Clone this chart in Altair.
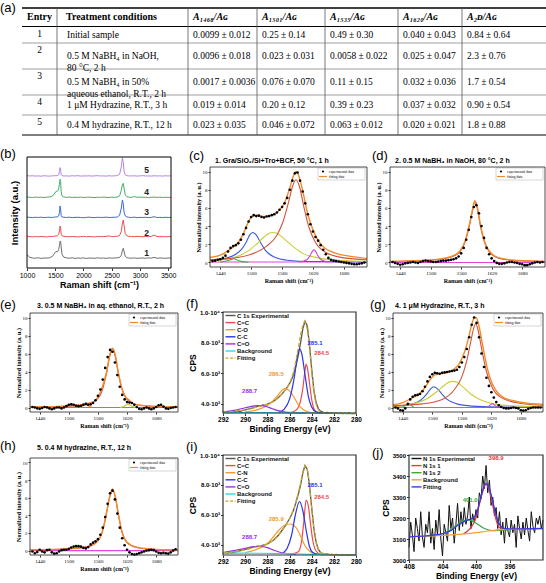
import altair as alt
import pandas as pd

SANS = "Liberation Sans"
SERIF = "Liberation Serif"
W_TOTAL, H_TOTAL = 546, 583

# ---------------- (a) table data ----------------
HEADERS = ["Entry", "Treatment conditions", "A₁₄₆₈/Aɢ", "A₁₅₀₁/Aɢ", "A₁₅₃₅/Aɢ", "A₁₆₂₀/Aɢ", "A₂ᴅ/Aɢ"]
ENTRIES = ["1", "2", "3", "4", "5"]
CONDITIONS = ["Initial sample",
              "0.5 M NaBH₄ in NaOH,\n80 °C, 2 h",
              "0.5 M NaBH₄ in 50%\naqueous ethanol, R.T., 2 h",
              "1 μM Hydrazine, R.T., 3 h",
              "0.4 M hydrazine, R.T., 12 h"]
A1468 = ["0.0099 ± 0.012", "0.0096 ± 0.018", "0.0017 ± 0.0036", "0.019 ± 0.014", "0.023 ± 0.035"]
A1501 = ["0.25 ± 0.14", "0.023 ± 0.031", "0.076  ± 0.070", "0.20  ± 0.12", "0.046 ± 0.072"]
A1535 = ["0.49 ± 0.30", "0.0058 ± 0.022", "0.11 ± 0.15", "0.39 ± 0.23", "0.063 ± 0.012"]
A1620 = ["0.040 ± 0.043", "0.025 ± 0.047", "0.032 ± 0.036", "0.037 ± 0.032", "0.020 ± 0.021"]
A2D = ["0.84 ± 0.64", "2.3 ± 0.76", "1.7 ± 0.54", "0.90 ± 0.54", "1.8 ± 0.88"]

# ---------------- (b) Raman spectra ----------------
BX = [1000, 1050, 1100, 1150, 1200, 1250, 1300, 1350, 1400, 1450,
      1480, 1510, 1540, 1560, 1575, 1585, 1595, 1605, 1620,
      1650, 1700, 1750, 1800, 1850, 1900, 1950, 2000, 2050, 2100,
      2150, 2200, 2250, 2300, 2350, 2400, 2450, 2500, 2550, 2600,
      2640, 2670, 2690, 2705, 2720, 2740, 2770,
      2800, 2850, 2900, 2950, 3000, 3050, 3100, 3150, 3200, 3250,
      3300, 3350, 3400, 3450, 3500, 3550]
SPEC1 = [12.0, 9.6, 9.0, 8.8, 9.2, 8.6, 9.0, 8.9, 9.3, 10.4,
         12.6, 14.8, 14.6, 16.5, 20.5, 23.8, 24.3, 19.0, 12.5,
         9.8, 9.1, 8.8, 9.2, 8.7, 9.0, 8.8, 9.1, 8.6, 9.0,
         8.9, 8.7, 9.2, 8.8, 9.0, 8.7, 9.1, 8.9, 9.0, 9.2,
         9.6, 11.5, 16.0, 17.7, 14.5, 10.5, 9.3,
         9.0, 8.8, 9.1, 8.7, 8.9, 9.0, 8.8, 9.1, 8.9, 9.6,
         8.8, 9.0, 8.9, 8.7, 9.0, 8.9]
SPEC2 = [28.6, 28.3, 28.0, 28.4, 28.1, 28.5, 28.2, 28.0, 28.4, 28.3,
         28.6, 28.9, 29.0, 30.0, 33.5, 37.8, 36.0, 30.5, 29.0,
         28.5, 28.3, 28.1, 28.4, 28.2, 28.0, 28.3, 28.5, 28.1, 28.3,
         28.2, 28.0, 28.4, 28.2, 28.3, 28.5, 28.9, 28.3, 28.4, 28.6,
         29.3, 33.0, 40.5, 43.2, 38.0, 31.0, 29.0,
         28.6, 28.4, 28.2, 28.5, 28.3, 28.2, 28.4, 28.3, 28.5, 29.6,
         28.4, 28.2, 28.3, 28.1, 28.3, 28.2]
SPEC3 = [45.9, 45.6, 45.4, 45.7, 45.5, 45.8, 45.4, 45.6, 45.7, 45.5,
         45.8, 46.0, 46.1, 46.8, 50.0, 55.9, 53.0, 47.5, 46.0,
         45.7, 45.5, 45.8, 45.4, 45.6, 45.7, 45.5, 45.3, 45.6, 45.8,
         45.5, 45.4, 45.7, 45.5, 45.6, 45.8, 45.5, 45.6, 45.7, 46.0,
         47.5, 54.0, 61.3, 57.5, 50.0, 47.0, 46.0,
         45.7, 45.5, 45.8, 45.4, 45.6, 45.5, 45.7, 45.4, 45.6, 46.2,
         45.5, 45.6, 45.4, 45.7, 45.5, 45.6]
SPEC4 = [64.0, 63.7, 63.5, 63.9, 63.6, 63.8, 63.5, 63.8, 64.0, 64.8,
         66.5, 68.8, 69.4, 71.0, 75.5, 79.9, 78.0, 69.0, 65.0,
         64.0, 63.7, 63.9, 63.5, 63.8, 63.6, 63.9, 63.5, 63.7, 63.8,
         63.6, 63.4, 63.8, 63.6, 63.9, 63.7, 63.5, 63.8, 63.6, 64.0,
         65.0, 70.0, 75.5, 76.3, 71.5, 66.0, 64.2,
         63.8, 63.6, 64.4, 63.7, 63.9, 63.6, 63.8, 63.5, 63.7, 63.9,
         63.6, 63.8, 63.5, 63.7, 63.6, 63.7]
SPEC5 = [83.2, 82.9, 83.1, 82.8, 83.0, 82.7, 83.1, 82.9, 82.8, 83.0,
         83.1, 83.2, 83.3, 84.0, 87.0, 90.4, 88.5, 84.0, 83.2,
         82.9, 83.0, 82.8, 83.1, 82.9, 83.2, 82.8, 83.0, 82.9, 83.1,
         82.8, 83.0, 83.2, 82.9, 83.0, 82.8, 83.1, 82.9, 83.0, 83.3,
         84.5, 91.0, 99.4, 95.0, 87.0, 84.0, 83.2,
         83.0, 82.9, 83.1, 82.8, 83.0, 83.2, 82.9, 83.0, 82.8, 83.1,
         82.9, 83.0, 82.8, 83.1, 82.9, 83.0]
SPEC_NAMES = ["1", "2", "3", "4", "5"]
SPEC_COLORS = ["#6e6e6e", "#e8504f", "#3a6ad6", "#3fae6c", "#b584e8"]
SPEC_LABEL_X = [3120, 3120, 3120, 3120, 3120]
SPEC_LABEL_Y = [13.2, 31.8, 50.7, 68.7, 88.3]

# ---------------- Raman fit panels (c, d, e, g, h) ----------------
RX = [1425, 1430, 1435, 1440, 1445, 1450, 1455, 1460, 1465, 1470,
      1475, 1480, 1485, 1490, 1495, 1500, 1505, 1510, 1515, 1520,
      1525, 1530, 1535, 1540, 1545, 1550, 1555, 1560, 1565, 1570,
      1575, 1580, 1585, 1590, 1595, 1600, 1605, 1610, 1615, 1620,
      1625, 1630, 1635, 1640, 1645, 1650, 1655, 1660, 1665, 1670,
      1675, 1680, 1685, 1690, 1695, 1700, 1705, 1710, 1715, 1720]
RAMAN_TICKS = [1440, 1500, 1560, 1620, 1680]

C_EXP = [0.15, 0.2, 0.3, 0.35, 0.5, 0.75, 1.2, 1.6, 1.8, 1.9,
         2.1, 2.5, 3.1, 3.8, 4.5, 5.0, 5.2, 5.1, 5.15, 5.0,
         4.95, 5.05, 5.1, 5.2, 5.3, 5.5, 5.8, 6.1, 6.5, 7.1,
         8.0, 9.0, 9.8, 9.9, 9.0, 7.8, 6.5, 5.3, 4.2, 3.4,
         2.8, 2.4, 1.9, 1.4, 0.9, 0.5, 0.3, 0.2, 0.15, 0.1,
         0.05, 0.0, -0.05, -0.1, -0.15, -0.2, -0.2, -0.15, -0.1, 0.0]
C_FIT_X = [1420, 1440, 1460, 1475, 1485, 1495, 1503, 1512, 1525, 1540, 1552, 1565, 1575, 1582,
           1587, 1592, 1600, 1610, 1620, 1630, 1645, 1665, 1690, 1725]
C_FIT_Y = [0.55, 0.8, 1.5, 2.2, 3.2, 4.5, 5.1, 5.2, 5.05, 5.2, 5.6, 6.6, 8.2, 9.5,
           10.0, 9.6, 7.9, 5.3, 3.6, 2.4, 1.5, 1.0, 0.7, 0.45]
C_GREEN_X = [1440, 1452, 1460, 1466, 1472, 1480, 1495]
C_GREEN_Y = [0.03, 0.15, 0.3, 0.4, 0.3, 0.12, 0.03]
C_BLUE_X = [1420, 1450, 1470, 1482, 1490, 1497, 1503, 1510, 1518, 1528, 1545, 1570, 1620, 1725]
C_BLUE_Y = [0.2, 0.45, 0.9, 1.5, 2.2, 3.0, 3.3, 3.0, 2.2, 1.3, 0.6, 0.25, 0.1, 0.05]
C_YEL_X = [1420, 1450, 1475, 1495, 1510, 1525, 1535, 1542, 1550, 1562, 1578, 1600, 1630, 1680, 1725]
C_YEL_Y = [0.15, 0.35, 0.7, 1.3, 2.0, 2.8, 3.2, 3.3, 3.2, 2.7, 1.9, 1.0, 0.5, 0.2, 0.12]
C_RED_X = [1420, 1460, 1500, 1530, 1550, 1562, 1572, 1580, 1587, 1594, 1602, 1612, 1625, 1645, 1680, 1725]
C_RED_Y = [0.3, 0.45, 0.9, 1.8, 3.0, 4.5, 6.5, 8.3, 9.1, 8.3, 6.2, 3.9, 2.2, 1.1, 0.5, 0.3]
C_MAG_X = [1595, 1608, 1614, 1618, 1622, 1626, 1630, 1636, 1650]
C_MAG_Y = [0.05, 0.3, 0.7, 1.15, 1.4, 1.15, 0.7, 0.3, 0.05]
BASE_X = [1420, 1725]
C_BASE_Y = [0.05, 0.05]

D_EXP = [0.05, -0.05, -0.15, -0.25, -0.2, -0.1, -0.05, 0.0, 0.05, 0.0,
         -0.05, 0.05, 0.15, 0.2, 0.15, 0.1, 0.05, 0.05, 0.1, 0.15,
         0.2, 0.2, 0.25, 0.3, 0.35, 0.45, 0.65, 1.0, 1.6, 2.5,
         3.6, 5.0, 6.1, 6.3, 5.4, 4.0, 2.7, 1.6, 0.9, 0.45,
         0.15, -0.05, -0.15, -0.15, -0.1, 0.0, 0.05, 0.05, 0.0, -0.05,
         -0.15, -0.2, -0.3, -0.3, -0.2, -0.1, 0.0, 0.05, 0.0, 0.05]
D_RED_X = [1420, 1500, 1540, 1558, 1568, 1576, 1582, 1587, 1592, 1598, 1606, 1616, 1635, 1670, 1725]
D_RED_Y = [0.1, 0.25, 0.6, 1.2, 2.3, 4.0, 5.6, 6.7, 5.9, 4.0, 2.2, 1.1, 0.45, 0.2, 0.1]
D_FIT_Y = [0.12, 0.28, 0.65, 1.3, 2.4, 4.1, 5.7, 6.8, 6.0, 4.1, 2.3, 1.2, 0.5, 0.22, 0.12]
D_BASE_Y = [0.0, 0.0]

E_EXP = [0.05, 0.0, -0.1, -0.15, -0.05, 0.05, 0.0, -0.1, -0.2, -0.1,
         0.0, 0.0, -0.1, 0.0, 0.15, 0.3, 0.35, 0.3, 0.2, 0.15,
         0.2, 0.3, 0.4, 0.3, 0.35, 0.5, 0.8, 1.3, 2.0, 3.1,
         4.4, 5.6, 6.4, 6.2, 5.0, 3.6, 2.3, 1.4, 0.9, 0.6,
         0.55, 0.5, 0.3, 0.05, -0.15, -0.2, -0.1, 0.0, -0.1, -0.2,
         -0.1, 0.05, 0.25, 0.3, 0.1, -0.1, -0.15, -0.05, 0.0, 0.05]
E_RED_X = [1420, 1500, 1540, 1560, 1570, 1578, 1584, 1590, 1596, 1602, 1610, 1620, 1640, 1680, 1725]
E_RED_Y = [0.05, 0.15, 0.4, 1.0, 2.1, 3.9, 5.6, 6.5, 5.6, 3.8, 2.0, 0.9, 0.3, 0.1, 0.05]
E_YEL_X = [1605, 1614, 1619, 1622, 1625, 1630, 1640]
E_YEL_Y = [0.0, 0.15, 0.3, 0.35, 0.3, 0.15, 0.0]
E_OR1_X = [1490, 1500, 1505, 1510, 1520]
E_OR1_Y = [0.02, 0.2, 0.3, 0.2, 0.02]
E_OR2_X = [1522, 1530, 1535, 1540, 1548]
E_OR2_Y = [0.02, 0.2, 0.3, 0.2, 0.02]
E_FIT_X = [1420, 1490, 1500, 1505, 1512, 1522, 1530, 1536, 1545, 1558, 1568, 1578, 1584, 1590,
           1596, 1602, 1610, 1618, 1623, 1630, 1645, 1680, 1725]
E_FIT_Y = [0.05, 0.12, 0.3, 0.4, 0.3, 0.25, 0.4, 0.45, 0.5, 1.0, 2.1, 4.0, 5.8, 6.6,
           5.8, 3.9, 2.0, 1.1, 0.9, 0.5, 0.25, 0.12, 0.06]
E_BASE_Y = [0.0, 0.0]

G_EXP = [0.0, -0.1, -0.3, -0.35, -0.1, 0.4, 0.9, 1.2, 1.35, 1.4,
         1.5, 1.8, 2.3, 2.9, 3.4, 3.7, 3.85, 3.8, 3.75, 3.85,
         3.9, 3.95, 4.0, 4.05, 4.1, 4.2, 4.5, 5.0, 5.6, 6.5,
         7.8, 9.2, 10.0, 9.4, 7.8, 6.0, 4.5, 3.3, 2.4, 1.7,
         1.1, 0.6, 0.25, 0.05, -0.05, -0.1, -0.1, -0.05, 0.0, -0.05,
         -0.1, -0.3, -0.35, -0.3, -0.15, -0.05, 0.0, 0.0, 0.0, 0.0]
G_GREEN_X = [1440, 1448, 1452, 1456, 1462]
G_GREEN_Y = [0.05, 0.3, 0.45, 0.3, 0.05]
G_BLUE_X = [1420, 1450, 1470, 1482, 1490, 1497, 1503, 1510, 1518, 1530, 1550, 1580, 1630, 1725]
G_BLUE_Y = [0.1, 0.3, 0.6, 1.1, 1.6, 2.1, 2.3, 2.1, 1.6, 0.9, 0.4, 0.15, 0.05, 0.02]
G_YEL_X = [1420, 1460, 1490, 1510, 1525, 1535, 1542, 1550, 1562, 1578, 1600, 1630, 1680, 1725]
G_YEL_Y = [0.1, 0.4, 1.0, 1.8, 2.5, 2.85, 2.9, 2.8, 2.3, 1.5, 0.8, 0.35, 0.15, 0.08]
G_RED_X = [1420, 1480, 1520, 1545, 1560, 1570, 1578, 1584, 1588, 1593, 1600, 1610, 1622, 1640, 1680, 1725]
G_RED_Y = [0.2, 0.4, 0.9, 2.0, 3.4, 5.2, 7.3, 8.8, 9.3, 8.6, 6.6, 4.0, 2.2, 1.1, 0.45, 0.25]
G_MAG_X = [1608, 1615, 1619, 1622, 1625, 1629, 1636]
G_MAG_Y = [0.0, 0.15, 0.35, 0.42, 0.35, 0.15, 0.0]
G_FIT_X = [1420, 1440, 1455, 1470, 1482, 1492, 1500, 1510, 1522, 1535, 1545, 1555, 1565, 1573,
           1580, 1585, 1589, 1595, 1602, 1612, 1622, 1632, 1645, 1665, 1690, 1725]
G_FIT_Y = [0.3, 0.55, 0.95, 1.4, 2.0, 2.8, 3.4, 3.7, 3.8, 4.0, 4.3, 4.9, 6.1, 7.6,
           9.2, 9.95, 10.0, 9.0, 7.0, 4.3, 2.6, 1.7, 1.1, 0.75, 0.5, 0.35]
G_BASE_Y = [0.0, 0.0]

H_EXP = [-0.1, -0.3, -0.15, 0.1, -0.1, -0.2, 0.05, 0.1, -0.2, -0.35,
         -0.3, -0.1, 0.05, 0.1, 0.1, 0.2, 0.35, 0.45, 0.5, 0.5,
         0.45, 0.3, 0.25, 0.4, 0.7, 0.9, 1.05, 1.3, 1.8, 2.6,
         3.8, 5.3, 6.5, 6.8, 5.8, 4.2, 2.6, 1.4, 0.6, 0.1,
         -0.2, -0.4, -0.45, -0.4, -0.3, -0.2, -0.1, 0.0, 0.05, 0.1,
         0.05, -0.1, -0.25, -0.3, -0.25, -0.3, -0.35, -0.2, 0.0, 0.15]
H_RED_X = [1420, 1500, 1540, 1560, 1570, 1578, 1584, 1590, 1596, 1602, 1610, 1620, 1640, 1680, 1725]
H_RED_Y = [0.05, 0.2, 0.45, 1.1, 2.3, 4.3, 6.0, 6.9, 6.0, 4.1, 2.0, 0.9, 0.35, 0.12, 0.06]
H_FIT_Y = [0.07, 0.22, 0.48, 1.15, 2.35, 4.4, 6.1, 7.0, 6.1, 4.2, 2.1, 0.95, 0.38, 0.14, 0.07]
H_BASE_Y = [0.0, 0.0]

# ---------------- XPS C 1s panels (f, i) ----------------
FX = [292.0, 291.8, 291.6, 291.4, 291.2, 291.0, 290.8, 290.6, 290.4, 290.2,
      290.0, 289.8, 289.6, 289.4, 289.2, 289.0, 288.8, 288.6, 288.4, 288.2,
      288.0, 287.8, 287.6, 287.4, 287.2, 287.0, 286.8, 286.6, 286.4, 286.2,
      286.0, 285.8, 285.6, 285.4, 285.2, 285.0, 284.8, 284.6, 284.4, 284.2,
      284.0, 283.8, 283.6, 283.4, 283.2, 283.0, 282.8, 282.6, 282.4, 282.2,
      282.0, 281.8, 281.6, 281.4, 281.2, 281.0, 280.8, 280.6, 280.4, 280.2,
      280.0]
F_EXP = [3420, 3460, 3440, 3480, 3450, 3490, 3510, 3540, 3520, 3580,
         3610, 3650, 3700, 3730, 3790, 3810, 3870, 3880, 3930, 3910,
         3990, 4050, 4110, 4200, 4310, 4420, 4560, 4720, 4900, 5100,
         5320, 5620, 6020, 6550, 7200, 8000, 8900, 9400, 9100, 7900,
         6300, 4900, 4100, 3700, 3530, 3470, 3420, 3450, 3400, 3430,
         3390, 3420, 3380, 3410, 3370, 3400, 3380, 3420, 3370, 3390,
         3380]
F_CC2_X = [286.0, 285.4, 285.0, 284.8, 284.6, 284.5, 284.4, 284.2, 284.0, 283.8, 283.5, 283.0, 282.5]
F_CC2_Y = [3415, 3600, 4200, 5000, 6200, 6600, 6400, 5400, 4300, 3700, 3450, 3390, 3380]
F_CO_X = [290.0, 289.0, 288.0, 287.5, 287.0, 286.6, 286.4, 286.0, 285.6, 285.2, 284.8, 284.4, 284.0, 283.0]
F_CO_Y = [3480, 3600, 3900, 4200, 4600, 4950, 5000, 4850, 4450, 3950, 3650, 3500, 3430, 3390]
F_CC_X = [287.0, 286.5, 286.0, 285.6, 285.3, 285.1, 284.9, 284.6, 284.3, 284.0, 283.6, 283.0]
F_CC_Y = [3450, 3650, 4300, 5600, 7000, 7600, 7300, 5900, 4500, 3800, 3480, 3390]
F_CDO_X = [292.0, 291.0, 290.0, 289.2, 288.7, 288.2, 287.6, 287.0, 286.4, 285.5, 284.5]
F_CDO_Y = [3480, 3580, 3750, 3880, 3900, 3850, 3700, 3560, 3470, 3420, 3400]
F_BG_X = [292.0, 288.0, 285.0, 283.5, 282.0, 280.0]
F_BG_Y = [3440, 3430, 3415, 3400, 3380, 3370]
F_FIT_X = [292.0, 291.0, 290.0, 289.0, 288.0, 287.5, 287.0, 286.5, 286.0, 285.6, 285.3, 285.0,
           284.8, 284.65, 284.4, 284.2, 284.0, 283.8, 283.6, 283.3, 283.0, 282.0, 280.0]
F_FIT_Y = [3460, 3520, 3620, 3790, 3980, 4150, 4400, 4800, 5350, 6200, 7300, 8500,
           9100, 9350, 8900, 7700, 6100, 4800, 4000, 3550, 3430, 3390, 3370]

I_EXP = [3450, 3490, 3430, 3510, 3470, 3530, 3540, 3590, 3620, 3650,
         3700, 3750, 3780, 3840, 3860, 3900, 3930, 3940, 3990, 4000,
         4080, 4150, 4250, 4350, 4500, 4650, 4850, 5050, 5250, 5500,
         5750, 6050, 6400, 6900, 7400, 8000, 8800, 9300, 9050, 8000,
         6500, 5100, 4200, 3700, 3500, 3420, 3380, 3400, 3360, 3380,
         3340, 3370, 3350, 3330, 3360, 3340, 3350, 3330, 3360, 3340,
         3350]
I_CC2_X = [285.8, 285.2, 284.9, 284.7, 284.5, 284.3, 284.1, 283.9, 283.6, 283.2, 282.5]
I_CC2_Y = [3400, 3550, 4300, 5600, 7000, 6600, 5400, 4300, 3600, 3380, 3350]
I_CN_X = [290.0, 289.0, 288.0, 287.5, 287.0, 286.5, 285.9, 285.4, 285.0, 284.6, 284.2, 283.8, 283.0]
I_CN_Y = [3500, 3700, 4100, 4500, 4950, 5300, 5400, 5150, 4600, 3950, 3600, 3430, 3360]
I_CC_X = [286.6, 286.2, 285.8, 285.5, 285.1, 284.8, 284.5, 284.2, 283.9, 283.4]
I_CC_Y = [3450, 3800, 4700, 5900, 6900, 6300, 5000, 3900, 3500, 3370]
I_CDO_X = [292.0, 291.0, 290.0, 289.2, 288.7, 288.0, 287.4, 286.8, 286.2, 285.4]
I_CDO_Y = [3500, 3620, 3780, 3890, 3900, 3820, 3650, 3500, 3420, 3380]
I_BG_X = [292.0, 289.0, 286.0, 284.0, 282.0, 280.0]
I_BG_Y = [3460, 3450, 3420, 3380, 3350, 3340]
I_FIT_X = [292.0, 291.0, 290.0, 289.0, 288.0, 287.5, 287.0, 286.5, 286.0, 285.5, 285.2, 285.0,
           284.8, 284.6, 284.4, 284.2, 284.0, 283.8, 283.6, 283.3, 283.0, 282.0, 280.0]
I_FIT_Y = [3470, 3550, 3680, 3880, 4070, 4300, 4650, 5150, 5750, 6650, 7500, 8100,
           8800, 9250, 9050, 8000, 6500, 5100, 4200, 3600, 3420, 3360, 3340]

# ---------------- XPS N 1s panel (j) ----------------
JX = [408.0, 407.8, 407.6, 407.4, 407.2, 407.0, 406.8, 406.6, 406.4, 406.2,
      406.0, 405.8, 405.6, 405.4, 405.2, 405.0, 404.8, 404.6, 404.4, 404.2,
      404.0, 403.8, 403.6, 403.4, 403.2, 403.0, 402.8, 402.6, 402.4, 402.2,
      402.0, 401.8, 401.6, 401.4, 401.2, 401.0, 400.8, 400.6, 400.4, 400.2,
      400.0, 399.8, 399.6, 399.4, 399.2, 399.0, 398.8, 398.6, 398.4, 398.2,
      398.0, 397.8, 397.6, 397.4, 397.2, 397.0, 396.8, 396.6, 396.4, 396.2,
      396.0, 395.8, 395.6, 395.4, 395.2, 395.0, 394.8, 394.6, 394.4, 394.2,
      394.0, 393.8, 393.6, 393.4, 393.2, 393.0, 392.8, 392.6, 392.4, 392.2,
      392.0]
J_EXP = [3060, 3180, 3120, 3040, 3200, 3150, 3090, 3230, 3110, 3060,
         3170, 3130, 3230, 3080, 3150, 3050, 3190, 3120, 3240, 3100,
         3020, 3170, 3130, 3090, 3260, 3150, 3200, 3080, 3170, 3270,
         3140, 3230, 3160, 3250, 3170, 3210, 3300, 3150, 3220, 3180,
         3240, 3200, 3320, 3290, 3400, 3340, 3450, 3320, 3380, 3260,
         3300, 3210, 3250, 3150, 3230, 3120, 3180, 3080, 3200, 3140,
         3110, 3190, 3130, 3170, 3060, 3210, 3150, 3100, 3180, 3120,
         3200, 3140, 3090, 3230, 3160, 3130, 3200, 3170, 3210, 3150,
         3190]
J_N1_X = [401.5, 400.5, 400.0, 399.5, 399.0, 398.8, 398.4, 398.0, 397.6, 397.2, 396.6, 396.0]
J_N1_Y = [3125, 3160, 3200, 3280, 3350, 3360, 3330, 3260, 3190, 3155, 3145, 3145]
J_N2_X = [406.0, 404.0, 403.0, 402.0, 401.2, 400.8, 400.2, 399.6, 399.0, 398.0, 397.0, 396.0]
J_N2_Y = [3115, 3125, 3145, 3175, 3190, 3190, 3180, 3165, 3150, 3140, 3142, 3145]
J_BG_X = [408.0, 405.0, 402.0, 400.0, 398.5, 397.0, 394.0, 392.0]
J_BG_Y = [3110, 3115, 3122, 3130, 3138, 3145, 3148, 3150]
J_FIT_X = [408.0, 405.0, 403.0, 402.0, 401.0, 400.4, 400.0, 399.6, 399.2, 398.9, 398.5, 398.0,
           397.6, 397.2, 396.6, 396.0, 392.0]
J_FIT_Y = [3110, 3118, 3140, 3170, 3190, 3200, 3215, 3270, 3330, 3365, 3350, 3280,
           3210, 3170, 3150, 3148, 3150]

# ---------------- layout (page pixels): plot rectangles x0, x1, y0, y1 ----------------
BOX = {
    "b": (27, 171, 157, 268), "c": (210, 367, 167, 267), "d": (390, 545, 167, 267),
    "e": (30, 178, 313, 412), "f": (223, 356, 312, 413), "g": (393, 543, 313, 412),
    "h": (30, 178, 458, 555), "i": (223, 356, 455, 555), "j": (409, 543, 455, 560),
}
TABLE_BOX = (22, 546, 8, 136)
COL_EDGES = [0, 35, 166, 235, 303, 376, 440, 524]
ROW_EDGES = [0, 18.5, 35, 61, 87, 107, 127]

ORANGE = "#f28a2a"
RC = {"red": "#cf553c", "blue": "#3c5ad8", "yellow": "#cccc33", "magenta": "#d33fd3",
      "green": "#44b044", "base": "#e048e0", "orange": "#e89030"}


def df1():
    return pd.DataFrame({"a": [0]})


def note(text, x, y, size, weight="normal", color="black", font=SANS, align="left",
         baseline="alphabetic"):
    return alt.Chart(pd.DataFrame({"t": [text]})).mark_text(
        align=align, baseline=baseline, fontSize=size, fontWeight=weight, color=color, font=font
    ).encode(x=alt.value(x), y=alt.value(y), text="t:N")


def frame(key, color="#222", sw=0.8):
    x0, x1, y0, y1 = BOX[key]
    return alt.Chart(df1()).mark_rect(fillOpacity=0, stroke=color, strokeWidth=sw).encode(
        x=alt.value(x0), x2=alt.value(x1), y=alt.value(y0), y2=alt.value(y1))


def hrule(x0, x1, y, color, sw=1.2, dash=None):
    kw = dict(color=color, strokeWidth=sw)
    if dash:
        kw["strokeDash"] = dash
    return alt.Chart(df1()).mark_rule(**kw).encode(x=alt.value(x0), x2=alt.value(x1), y=alt.value(y))


def encs(key, xdom, ydom, xrev=False, xaxis=None, yaxis=None):
    x0, x1, y0, y1 = BOX[key]
    xs = alt.Scale(domain=xdom, range=[x1, x0] if xrev else [x0, x1], nice=False, zero=False)
    ys = alt.Scale(domain=ydom, range=[y1, y0], nice=False, zero=False)
    if xaxis is not None:
        xaxis = alt.Axis(orient="bottom", offset=y1 - H_TOTAL, **xaxis)
    if yaxis is not None:
        yaxis = alt.Axis(orient="left", offset=-x0, **yaxis)
    X = alt.X("x:Q", scale=xs, axis=xaxis)
    Y = alt.Y("y:Q", scale=ys, axis=yaxis)
    return X, Y


def common_axis(font, lsize, tsize, lweight="normal"):
    return dict(labelFont=font, labelFontSize=lsize, labelFontWeight=lweight, titleFont=font,
                titleFontSize=tsize, titleFontWeight="bold", grid=False, domain=False,
                labelFlush=False, labelOverlap=False, tickColor="#333", labelColor="black",
                titleColor="black", format="d")


layers = []

# ---------------- table ----------------
tx0, tx1, ty0, ty1 = TABLE_BOX
TXS = alt.Scale(domain=[0, tx1 - tx0], range=[tx0, tx1], nice=False, zero=False)
TYS = alt.Scale(domain=[0, ty1 - ty0], range=[ty0, ty1], nice=False, zero=False)
hl = pd.DataFrame({"y": ROW_EDGES, "x0": [0] * 7, "x1": [tx1 - tx0] * 7,
                   "sw": [1.5, 1.0, 0.7, 0.7, 0.7, 0.7, 1.2],
                   "c": ["#000", "#000", "#777", "#777", "#777", "#777", "#000"]})
vl = pd.DataFrame({"x": COL_EDGES[1:-1], "y0": [0] * 6, "y1": [ROW_EDGES[-1]] * 6})
layers.append(alt.Chart(hl).mark_rule().encode(
    x=alt.X("x0:Q", scale=TXS, axis=None), x2="x1:Q", y=alt.Y("y:Q", scale=TYS, axis=None),
    strokeWidth=alt.StrokeWidth("sw:Q", scale=None), color=alt.Color("c:N", scale=None)))
layers.append(alt.Chart(vl).mark_rule(color="#555", strokeWidth=0.8).encode(
    x=alt.X("x:Q", scale=TXS, axis=None), y=alt.Y("y0:Q", scale=TYS, axis=None), y2="y1:Q"))
hy = ROW_EDGES[1] / 2
cells = []
for r in range(5):
    yc = (ROW_EDGES[r + 1] + ROW_EDGES[r + 2]) / 2
    cells.append({"x": COL_EDGES[1] + 10, "y": yc, "t": CONDITIONS[r]})
    for k, col in enumerate([A1468, A1501, A1535, A1620, A2D]):
        cells.append({"x": COL_EDGES[2 + k] + 5, "y": yc, "t": col[r]})


def table_text(df, align, weight="normal", style="normal", size=9.5):
    return alt.Chart(df).mark_text(align=align, baseline="middle", font=SERIF, fontSize=size,
                                   fontWeight=weight, fontStyle=style, lineBreak="\n",
                                   lineHeight=12, color="black").encode(
        x=alt.X("x:Q", scale=TXS, axis=None), y=alt.Y("y:Q", scale=TYS, axis=None), text="t:N")


layers += [
    table_text(pd.DataFrame({"x": [COL_EDGES[1] / 2], "y": [hy], "t": [HEADERS[0]]}), "center", "bold", size=10),
    table_text(pd.DataFrame({"x": [COL_EDGES[1] + 9], "y": [hy], "t": [HEADERS[1]]}), "left", "bold", size=10),
    table_text(pd.DataFrame({"x": [COL_EDGES[k] + 5 for k in range(2, 7)], "y": [hy] * 5,
                             "t": HEADERS[2:]}), "left", "bold", "italic", size=10),
    table_text(pd.DataFrame({"x": [COL_EDGES[1] / 2] * 5,
                             "y": [ROW_EDGES[r + 1] + 7 for r in range(5)], "t": ENTRIES}), "center"),
    table_text(pd.DataFrame(cells), "left"),
    note("(a)", 0, 12, 13),
]

# ---------------- (b) ----------------
ax = common_axis(SANS, 7, 9)
Xb, Yb = encs("b", [1000, 3550], [0, 100],
              xaxis=dict(values=[1000, 1500, 2000, 2500, 3000, 3500], title="Raman shift (cm⁻¹)",
                         tickSize=2.5, labelPadding=1, titlePadding=2, **ax),
              yaxis=dict(title="Intensity (a.u.)", labels=False, ticks=False, titlePadding=8,
                         **{k: v for k, v in ax.items() if k != "titleFontSize"}, titleFontSize=9.5))
Xb2, Yb2 = encs("b", [1000, 3550], [0, 100])
rows = []
for name, col, ys_ in zip(SPEC_NAMES, SPEC_COLORS, [SPEC1, SPEC2, SPEC3, SPEC4, SPEC5]):
    for x, y in zip(BX, ys_):
        rows.append({"x": x, "y": y, "s": name, "c": col})
layers.append(alt.Chart(pd.DataFrame(rows)).mark_line(strokeWidth=1).encode(
    Xb, Yb, color=alt.Color("c:N", scale=None), detail="s:N"))
layers.append(alt.Chart(pd.DataFrame({"x": SPEC_LABEL_X, "y": SPEC_LABEL_Y, "t": SPEC_NAMES})).mark_text(
    font=SANS, fontSize=8.5, fontWeight="bold", color="#222", align="center", baseline="middle"
).encode(Xb2, Yb2, text="t:N"))
layers += [frame("b", "black", 1), note("(b)", 0, 158, 13)]


# ---------------- Raman fit panels ----------------
def raman(key, exp_y, fit_x, fit_y, comps, label, lab_xy, subtitle, sub_xy):
    ax = common_axis(SERIF, 5, 6)
    X, Y = encs(key, [1420, 1725], [-0.5, 10.5],
                xaxis=dict(values=RAMAN_TICKS, title="Raman shift (cm⁻¹)", tickSize=2,
                           labelPadding=1, titlePadding=2, **ax),
                yaxis=dict(values=[0, 2, 4, 6, 8, 10], title="Normalized intensity (a. u.)",
                           tickSize=2, labelPadding=1, titlePadding=1, **ax))
    X2, Y2 = encs(key, [1420, 1725], [-0.5, 10.5])
    rows = []
    for name, color, cx, cy in comps:
        for x, y in zip(cx, cy):
            rows.append({"x": x, "y": y, "n": name, "c": color})
    out = [
        alt.Chart(pd.DataFrame(rows)).mark_line(strokeWidth=1.1, interpolate="monotone").encode(
            X, Y, color=alt.Color("c:N", scale=None), detail="n:N"),
        alt.Chart(pd.DataFrame({"x": fit_x, "y": fit_y})).mark_line(
            color=ORANGE, strokeWidth=1.4, interpolate="monotone").encode(X2, Y2),
        alt.Chart(pd.DataFrame({"x": RX, "y": exp_y})).mark_circle(
            color="black", size=7, opacity=1).encode(X2, Y2),
    ]
    x0, x1, y0, y1 = BOX[key]
    out += [
        alt.Chart(df1()).mark_rect(fill="white", stroke="#999", strokeWidth=0.4).encode(
            x=alt.value(x1 - 49), x2=alt.value(x1 - 2), y=alt.value(y0 + 1), y2=alt.value(y0 + 13)),
        alt.Chart(df1()).mark_circle(color="black", size=5, opacity=1).encode(
            x=alt.value(x1 - 44), y=alt.value(y0 + 4.5)),
        hrule(x1 - 48, x1 - 40, y0 + 9.5, ORANGE, 1.2),
        note("experimental data", x1 - 38, y0 + 4.5, 3.5, font=SERIF, baseline="middle"),
        note("fitting data", x1 - 38, y0 + 9.5, 3.5, font=SERIF, baseline="middle"),
        frame(key, "#222", 0.8),
        note(label, lab_xy[0], lab_xy[1], 13),
        note(subtitle, sub_xy[0], sub_xy[1], 7, weight="bold"),
    ]
    return out


layers += raman("c", C_EXP, C_FIT_X, C_FIT_Y, [
    ("base", RC["base"], BASE_X, C_BASE_Y), ("green", RC["green"], C_GREEN_X, C_GREEN_Y),
    ("blue", RC["blue"], C_BLUE_X, C_BLUE_Y), ("yellow", RC["yellow"], C_YEL_X, C_YEL_Y),
    ("red", RC["red"], C_RED_X, C_RED_Y), ("magenta", RC["magenta"], C_MAG_X, C_MAG_Y)],
    "(c)", (189, 160), "1. Gra/SiO₂/Si+Tro+BCF, 50 °C, 1 h", (215, 162.5))
layers += raman("d", D_EXP, D_RED_X, D_FIT_Y, [
    ("base", RC["base"], BASE_X, D_BASE_Y), ("red", RC["red"], D_RED_X, D_RED_Y)],
    "(d)", (372, 160), "2. 0.5 M NaBH₄ in NaOH, 80 °C, 2 h", (395, 162.5))
layers += raman("e", E_EXP, E_FIT_X, E_FIT_Y, [
    ("base", RC["base"], BASE_X, E_BASE_Y), ("or1", RC["orange"], E_OR1_X, E_OR1_Y),
    ("or2", RC["orange"], E_OR2_X, E_OR2_Y), ("yellow", RC["yellow"], E_YEL_X, E_YEL_Y),
    ("red", RC["red"], E_RED_X, E_RED_Y)],
    "(e)", (0, 309), "3. 0.5 M NaBH₄ in aq. ethanol, R.T., 2 h", (37, 308))
layers += raman("g", G_EXP, G_FIT_X, G_FIT_Y, [
    ("base", RC["base"], BASE_X, G_BASE_Y), ("green", RC["green"], G_GREEN_X, G_GREEN_Y),
    ("blue", RC["blue"], G_BLUE_X, G_BLUE_Y), ("yellow", RC["yellow"], G_YEL_X, G_YEL_Y),
    ("red", RC["red"], G_RED_X, G_RED_Y), ("magenta", RC["magenta"], G_MAG_X, G_MAG_Y)],
    "(g)", (370, 309), "4. 1 μM Hydrazine, R.T., 3 h", (395, 308))
layers += raman("h", H_EXP, H_RED_X, H_FIT_Y, [
    ("base", RC["base"], BASE_X, H_BASE_Y), ("red", RC["red"], H_RED_X, H_RED_Y)],
    "(h)", (0, 450), "5. 0.4 M hydrazine, R.T., 12 h", (37, 450))


# ---------------- XPS panels ----------------
def xps(key, xdom, xticks, ydom, yticks, ylabexpr, names, colors, exp, comps, fit, annos,
        label, lab_xy, exp_w=1.0):
    ax = common_axis(SANS, 6.5, 8.5, "bold")
    yax = dict(values=yticks, title="CPS", tickSize=2.5, labelPadding=1, titlePadding=2, **ax)
    yax["labelFontSize"] = 6
    if ylabexpr:
        yax["labelExpr"] = ylabexpr
    X, Y = encs(key, xdom, ydom, xrev=True,
                xaxis=dict(values=xticks, title="Binding Energy (eV)", tickSize=2.5,
                           labelPadding=1, titlePadding=1, **ax),
                yaxis=yax)
    X2, Y2 = encs(key, xdom, ydom, xrev=True)
    col = dict(zip(names, colors))
    out = [alt.Chart(pd.DataFrame({"x": exp[0], "y": exp[1]})).mark_line(
        strokeWidth=exp_w, color=colors[0]).encode(X, Y)]
    rows = []
    for name, cx, cy in comps:
        for x, y in zip(cx, cy):
            rows.append({"x": x, "y": y, "n": name, "c": col[name]})
    out.append(alt.Chart(pd.DataFrame(rows)).mark_line(strokeWidth=1.2, interpolate="monotone").encode(
        X2, Y2, color=alt.Color("c:N", scale=None), detail="n:N"))
    fit_kw = dict(strokeWidth=1.3, interpolate="monotone", color=colors[-1])
    if names[-1] == "Fitting" and key in ("f", "i"):
        fit_kw["strokeDash"] = [4, 2]
    out.append(alt.Chart(pd.DataFrame({"x": fit[0], "y": fit[1]})).mark_line(**fit_kw).encode(X2, Y2))
    for t, axv, ayv, c in annos:
        out.append(alt.Chart(pd.DataFrame({"x": [axv], "y": [ayv], "t": [t]})).mark_text(
            font=SANS, fontSize=6, fontWeight="bold", color=c, align="center", baseline="middle"
        ).encode(X2, Y2, text="t:N"))
    x0, x1, y0, y1 = BOX[key]
    for k, (n, c) in enumerate(zip(names, colors)):
        yy = y0 + 3.5 + k * 7.1
        dash = [3, 1.5] if (n == "Fitting" and key in ("f", "i")) else None
        out.append(hrule(x0 + 2.5, x0 + 12.5, yy, c, 1.4, dash))
        out.append(note(n, x0 + 14, yy, 6, weight="bold", color="#111", baseline="middle"))
    out += [frame(key, "#333", 1.2), note(label, lab_xy[0], lab_xy[1], 13)]
    return out


C1S_LABELS = "datum.value >= 10000 ? '1.0·10⁴' : format(datum.value / 1000, '.1f') + '·10³'"
F_NAMES = ["C 1s Experimental", "C=C", "C-O", "C-C", "C=O", "Background", "Fitting"]
I_NAMES = ["C 1s Experimental", "C=C", "C-N", "C-C", "C=O", "Background", "Fitting"]
C1S_COLORS = ["#555555", "#f0484c", "#f39a2c", "#2b35e6", "#9b30e0", "#2ad8e8", "#c9a92a"]
J_NAMES = ["N 1s Experimental", "N 1s 1", "N 1s 2", "Background", "Fitting"]
J_COLORS = ["#111111", "#e83a3a", "#3aa83a", "#f0a040", "#3a3ae6"]

layers += xps("f", [280, 292], [292, 290, 288, 286, 284, 282, 280], [3410, 10000],
              [4000, 6000, 8000, 10000], C1S_LABELS, F_NAMES, C1S_COLORS, (FX, F_EXP),
              [("C=C", F_CC2_X, F_CC2_Y), ("C-O", F_CO_X, F_CO_Y), ("C-C", F_CC_X, F_CC_Y),
               ("C=O", F_CDO_X, F_CDO_Y), ("Background", F_BG_X, F_BG_Y)],
              (F_FIT_X, F_FIT_Y),
              [("285.1", 283.7, 8000, "#2b35e6"), ("284.5", 283.1, 7350, "#f0484c"),
               ("286.5", 287.2, 5940, "#f39a2c"), ("288.7", 289.6, 4850, "#9b30e0")],
              "(f)", (186, 308), 1.3)
layers += xps("i", [280, 292], [292, 290, 288, 286, 284, 282, 280], [3333, 10000],
              [4000, 6000, 8000, 10000], C1S_LABELS, I_NAMES, C1S_COLORS, (FX, I_EXP),
              [("C=C", I_CC2_X, I_CC2_Y), ("C-N", I_CN_X, I_CN_Y), ("C-C", I_CC_X, I_CC_Y),
               ("C=O", I_CDO_X, I_CDO_Y), ("Background", I_BG_X, I_BG_Y)],
              (I_FIT_X, I_FIT_Y),
              [("285.1", 283.7, 8000, "#2b35e6"), ("284.5", 283.1, 7220, "#f0484c"),
               ("285.9", 287.2, 5730, "#f39a2c"), ("288.7", 289.6, 4550, "#9b30e0")],
              "(i)", (186, 451), 1.3)
layers += xps("j", [392, 408], [408, 404, 400, 396], [3000, 3500],
              [3000, 3100, 3200, 3300, 3400, 3500], None, J_NAMES, J_COLORS, (JX, J_EXP),
              [("N 1s 1", J_N1_X, J_N1_Y), ("N 1s 2", J_N2_X, J_N2_Y),
               ("Background", J_BG_X, J_BG_Y)],
              (J_FIT_X, J_FIT_Y),
              [("398.9", 397.6, 3484, "#e83a3a"), ("401.0", 400.7, 3286, "#3aa83a")],
              "(j)", (372, 457), 1.0)

chart = alt.layer(*layers).resolve_scale(x="independent", y="independent").properties(
    width=W_TOTAL, height=H_TOTAL, padding=0, background="white",
    autosize=alt.AutoSizeParams(type="none"),
).configure_view(stroke=None)

chart.save("out.html", embed_options={"renderer": "svg", "actions": False})
